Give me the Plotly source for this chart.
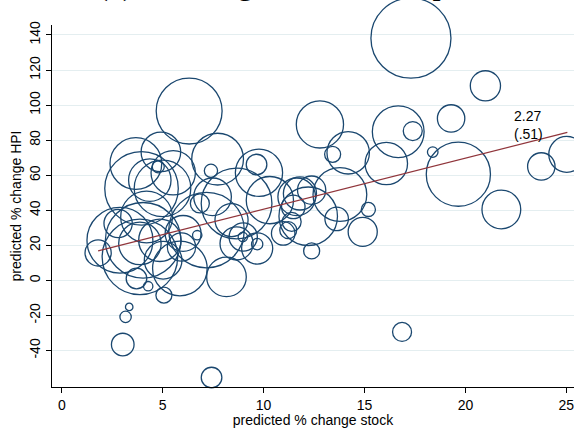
import plotly.graph_objects as go

# ---- data ----
stock_change = [
    17.30, 20.99, 19.29, 16.67, 17.39, 12.79, 14.19, 13.42, 16.08, 18.38,
    19.65, 23.76, 25.02, 21.78, 15.19, 14.91, 12.38, 13.62, 13.78,
    12.21, 12.38, 11.80, 11.47, 11.22, 11.39, 10.97,
    6.31, 3.67, 4.91, 4.78, 5.52, 4.36, 3.95, 4.99, 7.72, 7.39,
    9.65, 9.77, 8.66, 7.47, 6.84, 10.31, 11.64, 8.41, 8.99, 8.97,
    9.68, 9.68, 8.16, 7.17, 6.71, 6.01, 5.85, 5.93, 5.02, 4.03,
    3.87, 2.88, 2.79, 4.20, 1.80, 3.70, 4.28, 5.06, 3.87, 4.86,
    8.66, 3.34, 3.16, 3.02, 7.42, 16.86,
]
hpi_change = [
    138.2, 111.0, 92.4, 84.8, 85.2, 89.0, 72.8, 71.9, 66.7, 73.2,
    60.6, 65.0, 71.9, 40.5, 40.5, 27.7, 16.8, 35.1, 49.0,
    36.6, 51.5, 49.6, 41.9, 28.7, 33.4, 26.8,
    96.6, 66.7, 73.3, 64.8, 61.4, 57.2, 52.5, 52.5, 69.2, 62.5,
    66.1, 61.4, 43.9, 47.7, 43.9, 45.8, 47.7, 34.4, 24.8, 24.8,
    18.2, 20.7, 2.0, 28.7, 25.8, 26.8, 6.8, 19.1, 11.5, 22.9,
    21.1, 22.9, 32.5, 36.2, 15.7, 1.1, -3.3, -8.4, 13.4, 22.9,
    21.1, -15.1, -20.8, -36.6, -55.4, -29.4,
]
weight = [
    801, 114, 94, 335, 45, 279, 225, 32, 225, 14,
    515, 94, 161, 188, 25, 106, 32, 69, 361,
    428, 100, 137, 69, 36, 45, 69,
    543, 335, 196, 18, 246, 225, 676, 400, 335, 22,
    53, 279, 625, 177, 45, 279, 177, 137, 100, 11,
    121, 16, 196, 713, 11, 161, 372, 100, 177, 713,
    225, 543, 100, 335, 86, 53, 11, 32, 713, 225,
    137, 7, 16, 64, 53, 45,
]
fit_x = [1.8, 25.05]
fit_y = [16.8, 84.4]
x_ticks = [0, 5, 10, 15, 20, 25]
y_ticks = [-40, -20, 0, 20, 40, 60, 80, 100, 120, 140]
y_tick_text = ["-40", "-20", "0", "20", "40", "60", "80", "100", "120", "140"]
coef_label = "2.27<br>(.51)"
title_text = "(c) Housing versus stock prices"

NAVY = "#1a476f"
MAROON = "#90353b"
FONT = "Liberation Sans, Arial, sans-serif"

fig = go.Figure()
fig.add_trace(go.Scatter(
    x=stock_change, y=hpi_change, mode="markers",
    marker=dict(size=weight, sizemode="area", sizeref=0.25,
                symbol="circle-open", color=NAVY, opacity=1,
                line=dict(color=NAVY, width=1.3)),
    cliponaxis=False, showlegend=False, hoverinfo="skip",
))
fig.add_trace(go.Scatter(
    x=fit_x, y=fit_y, mode="lines",
    line=dict(color=MAROON, width=1.3),
    showlegend=False, hoverinfo="skip",
))

fig.add_annotation(
    x=22.31, y=88.6, xref="x", yref="y", text=coef_label,
    showarrow=False, xanchor="left", yanchor="middle", align="left",
    font=dict(family=FONT, size=14, color="black"),
)
fig.add_annotation(
    x=0.0824, y=1, xref="paper", yref="paper", text=title_text,
    showarrow=False, xanchor="left", yanchor="bottom", yshift=21,
    font=dict(family="Liberation Serif, Times New Roman, serif", size=33, color="black"),
)

axis_font = dict(family=FONT, size=14, color="black")
fig.update_layout(
    width=574, height=428,
    margin=dict(l=52, r=0, t=25, b=41),
    paper_bgcolor="white", plot_bgcolor="white",
    font=axis_font,
    xaxis=dict(
        range=[-0.486, 25.38], tickmode="array", tickvals=x_ticks,
        ticks="outside", ticklen=5, tickcolor="black", tickwidth=1,
        showline=True, linecolor="black", linewidth=1,
        showgrid=False, zeroline=False, tickfont=axis_font,
        ticklabeloverflow="allow",
        title=dict(text="predicted % change stock", font=axis_font, standoff=2),
    ),
    yaxis=dict(
        range=[-60.8, 145.7], tickmode="array", tickvals=y_ticks,
        ticktext=y_tick_text, tickangle=-90,
        ticks="outside", ticklen=5, tickcolor="black", tickwidth=1,
        showline=True, linecolor="black", linewidth=1,
        showgrid=True, gridcolor="#e4eef0", gridwidth=1, zeroline=False,
        tickfont=axis_font,
        title=dict(text="predicted % change HPI", font=axis_font, standoff=2),
    ),
)

fig.write_html("out.html")
